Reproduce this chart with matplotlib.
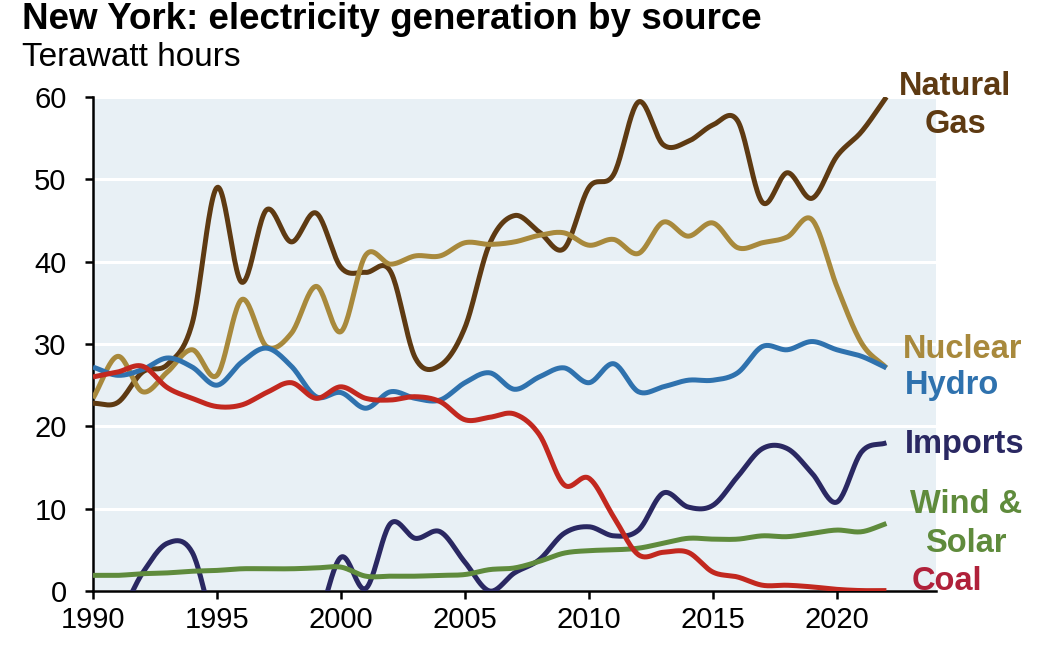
import numpy as np
import matplotlib
matplotlib.use("Agg")
import matplotlib.pyplot as plt

years = list(range(1990, 2023))

natural_gas = [22.8, 22.9, 26.6, 27.5, 32.5, 49.0, 37.5, 46.3, 42.4, 45.9, 39.3, 38.7, 38.8,
               28.3, 27.4, 32.0, 42.2, 45.6, 43.6, 41.6, 49.0, 50.6, 59.4, 54.2, 54.6, 56.6,
               57.1, 47.2, 50.8, 47.7, 52.8, 55.8, 60.0]
nuclear = [23.4, 28.5, 24.2, 26.6, 29.3, 26.2, 35.4, 29.7, 31.3, 37.0, 31.5, 40.8, 39.7,
           40.7, 40.7, 42.3, 42.1, 42.4, 43.2, 43.5, 42.0, 42.7, 41.0, 44.8, 43.1, 44.7,
           41.7, 42.3, 43.0, 45.1, 37.0, 30.1, 27.1]
hydro = [27.2, 26.2, 26.9, 28.3, 27.2, 25.0, 27.8, 29.5, 27.3, 23.6, 24.1, 22.2, 24.2,
         23.4, 23.2, 25.3, 26.5, 24.5, 26.0, 27.1, 25.3, 27.6, 24.2, 24.8, 25.6, 25.6,
         26.5, 29.7, 29.3, 30.3, 29.3, 28.5, 27.1]
imports = [-3.0, -3.0, 2.2, 5.8, 4.7, -5.0, -6.0, -6.0, -6.0, -4.0, 4.1, 0.3, 8.2,
           6.4, 7.2, 3.5, 0.0, 2.2, 3.8, 7.0, 7.8, 6.7, 7.4, 11.9, 10.2, 10.4,
           13.9, 17.3, 17.3, 14.3, 10.8, 16.9, 18.0]
wind_solar = [1.9, 1.9, 2.1, 2.2, 2.4, 2.5, 2.7, 2.7, 2.7, 2.8, 2.9, 1.8, 1.8,
              1.8, 1.9, 2.0, 2.6, 2.8, 3.6, 4.6, 4.9, 5.0, 5.2, 5.8, 6.4, 6.3,
              6.3, 6.7, 6.6, 7.0, 7.4, 7.2, 8.2]
coal = [26.0, 26.6, 27.3, 24.7, 23.4, 22.4, 22.6, 24.1, 25.3, 23.4, 24.8, 23.4, 23.2,
        23.6, 23.0, 20.8, 21.1, 21.5, 19.0, 12.9, 13.7, 9.0, 4.4, 4.7, 4.7, 2.3,
        1.7, 0.7, 0.7, 0.5, 0.2, 0.05, 0.05]

series_names = ["Natural Gas", "Nuclear", "Hydro", "Imports", "Wind & Solar", "Coal"]
x_ticks = [1990, 1995, 2000, 2005, 2010, 2015, 2020]
y_ticks = [0, 10, 20, 30, 40, 50, 60]

colors = {
    "Natural Gas": "#5E3A12",
    "Nuclear": "#A8893C",
    "Hydro": "#2F72AE",
    "Imports": "#2A2862",
    "Wind & Solar": "#5F8B3C",
    "Coal": "#C2281F",
}
label_colors = dict(colors)
label_colors["Coal"] = "#B0213A"


def smooth(x, y, n=24):
    """Catmull-Rom (Excel-style) smoothing of a polyline for drawing."""
    x = np.asarray(x, float)
    y = np.asarray(y, float)
    xp = np.concatenate([[2 * x[0] - x[1]], x, [2 * x[-1] - x[-2]]])
    yp = np.concatenate([[2 * y[0] - y[1]], y, [2 * y[-1] - y[-2]]])
    t = np.linspace(0, 1, n, endpoint=False)
    ox, oy = [], []
    for i in range(1, len(xp) - 2):
        for arr, out in ((xp, ox), (yp, oy)):
            p0, p1, p2, p3 = arr[i - 1], arr[i], arr[i + 1], arr[i + 2]
            out.append(0.5 * ((2 * p1) + (-p0 + p2) * t
                              + (2 * p0 - 5 * p1 + 4 * p2 - p3) * t ** 2
                              + (-p0 + 3 * p1 - 3 * p2 + p3) * t ** 3))
    ox = np.concatenate(ox + [[x[-1]]])
    oy = np.concatenate(oy + [[y[-1]]])
    return ox, oy


plt.rcParams['font.family'] = ['Liberation Sans', 'DejaVu Sans']

W, H = 1044, 648
fig = plt.figure(figsize=(W / 100, H / 100), dpi=100)
ax = fig.add_axes([93 / W, 1 - 591 / H, (936 - 93) / W, (591 - 97) / H])
ax.set_facecolor("#E8F0F5")

data = {
    "Natural Gas": natural_gas,
    "Nuclear": nuclear,
    "Hydro": hydro,
    "Imports": imports,
    "Wind & Solar": wind_solar,
    "Coal": coal,
}
order = ["Natural Gas", "Nuclear", "Hydro", "Imports", "Wind & Solar", "Coal"]
for name in order:
    sx, sy = smooth(years, data[name])
    ax.plot(sx, sy, color=colors[name], lw=3.6, solid_capstyle='butt', zorder=3)

ax.set_xlim(1990, 2024)
ax.set_ylim(0, 60)
ax.set_xticks(x_ticks)
ax.set_yticks(y_ticks)
ax.grid(axis='y', color='white', lw=2.2)
ax.set_axisbelow(True)
for s in ["top", "right"]:
    ax.spines[s].set_visible(False)
for s in ["left", "bottom"]:
    ax.spines[s].set_linewidth(1.8)
    ax.spines[s].set_color("black")
ax.tick_params(axis='both', length=6, width=1.8, labelsize=21, color='black')
ax.tick_params(axis='y', pad=13)
ax.tick_params(axis='x', pad=5)

fig.text(22 / W, 1 - 29 / H, "New York: electricity generation by source",
         fontsize=26.5, fontweight='bold', va='baseline', ha='left')
fig.text(22 / W, 1 - 66 / H, "Terawatt hours", fontsize=24, va='baseline', ha='left')

lab = dict(fontsize=23.5, fontweight='bold', va='baseline')
fig.text(955 / W, 1 - 95 / H, "Natural", color=label_colors["Natural Gas"], ha='center', **lab)
fig.text(955 / W, 1 - 133 / H, "Gas", color=label_colors["Natural Gas"], ha='center', **lab)
fig.text(903 / W, 1 - 358 / H, "Nuclear", color=label_colors["Nuclear"], ha='left', **lab)
fig.text(905 / W, 1 - 394 / H, "Hydro", color=label_colors["Hydro"], ha='left', **lab)
fig.text(905 / W, 1 - 453 / H, "Imports", color=label_colors["Imports"], ha='left', **lab)
fig.text(966 / W, 1 - 513 / H, "Wind &", color=label_colors["Wind & Solar"], ha='center', **lab)
fig.text(966 / W, 1 - 552 / H, "Solar", color=label_colors["Wind & Solar"], ha='center', **lab)
fig.text(912 / W, 1 - 590 / H, "Coal", color=label_colors["Coal"], ha='left', **lab)

fig.savefig("out.png", dpi=100)
